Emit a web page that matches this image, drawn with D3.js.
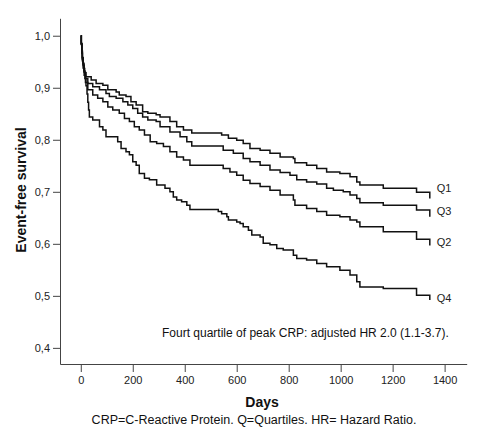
<!DOCTYPE html>
<html>
<head>
<meta charset="utf-8">
<script src="https://cdn.jsdelivr.net/npm/d3@7"></script>
<style>
  html, body { margin: 0; padding: 0; background: #fff; }
  svg { display: block; font-family: "Liberation Sans", Arial, sans-serif; }
</style>
</head>
<body>
<svg id="chart" width="481" height="440"></svg>
<script>
// ---- Data (days, event-free survival) ----
const seriesNames = ["Q1", "Q3", "Q2", "Q4"];
const q1Days = [0, 2, 4, 6, 9, 12, 15, 20, 40, 59, 85, 104, 136, 148, 174, 193, 213, 238, 258, 290, 305, 343, 369, 395, 427, 542, 568, 600, 625, 651, 690, 728, 767, 818, 824, 869, 908, 946, 997, 1036, 1062, 1074, 1164, 1292, 1343];
const q1Surv = [1.0, 0.985, 0.970, 0.958, 0.947, 0.937, 0.929, 0.921, 0.915, 0.908, 0.905, 0.896, 0.892, 0.886, 0.883, 0.873, 0.867, 0.854, 0.851, 0.848, 0.844, 0.835, 0.825, 0.819, 0.813, 0.809, 0.803, 0.799, 0.793, 0.783, 0.780, 0.774, 0.767, 0.764, 0.756, 0.751, 0.745, 0.738, 0.735, 0.729, 0.719, 0.713, 0.707, 0.699, 0.687];
const q3Days = [0, 2, 4, 6, 9, 13, 18, 27, 46, 72, 97, 110, 136, 162, 181, 200, 219, 238, 258, 290, 305, 343, 382, 408, 427, 548, 587, 625, 651, 690, 728, 767, 805, 831, 869, 908, 946, 972, 1010, 1036, 1062, 1074, 1164, 1292, 1343];
const q3Surv = [1.0, 0.984, 0.968, 0.955, 0.943, 0.930, 0.918, 0.908, 0.902, 0.896, 0.889, 0.883, 0.880, 0.873, 0.867, 0.860, 0.851, 0.844, 0.838, 0.835, 0.825, 0.815, 0.806, 0.796, 0.788, 0.780, 0.774, 0.764, 0.758, 0.751, 0.742, 0.737, 0.732, 0.723, 0.719, 0.715, 0.707, 0.703, 0.700, 0.694, 0.687, 0.679, 0.674, 0.665, 0.652];
const q2Days = [0, 2, 4, 6, 9, 13, 18, 27, 46, 65, 85, 104, 123, 148, 168, 187, 206, 225, 245, 267, 292, 318, 343, 369, 395, 420, 548, 574, 600, 625, 651, 690, 728, 767, 818, 824, 869, 908, 946, 997, 1036, 1062, 1074, 1164, 1292, 1343];
const q2Surv = [1.0, 0.983, 0.966, 0.952, 0.938, 0.924, 0.910, 0.896, 0.886, 0.880, 0.873, 0.863, 0.857, 0.851, 0.841, 0.835, 0.825, 0.819, 0.809, 0.796, 0.793, 0.787, 0.777, 0.767, 0.761, 0.751, 0.745, 0.738, 0.732, 0.722, 0.716, 0.710, 0.703, 0.694, 0.684, 0.674, 0.668, 0.662, 0.655, 0.652, 0.646, 0.642, 0.633, 0.623, 0.609, 0.597];
const q4Days = [0, 2, 4, 6, 9, 12, 16, 20, 24, 27, 30, 33, 46, 72, 85, 97, 142, 155, 174, 187, 200, 213, 225, 245, 264, 292, 324, 343, 356, 369, 388, 408, 420, 529, 542, 562, 568, 600, 613, 625, 645, 658, 690, 702, 728, 754, 779, 818, 831, 869, 908, 946, 997, 1036, 1062, 1074, 1164, 1292, 1343];
const q4Surv = [1.0, 0.985, 0.970, 0.957, 0.945, 0.932, 0.918, 0.904, 0.888, 0.872, 0.857, 0.844, 0.838, 0.825, 0.819, 0.806, 0.796, 0.783, 0.777, 0.771, 0.758, 0.751, 0.735, 0.726, 0.723, 0.713, 0.707, 0.700, 0.690, 0.684, 0.681, 0.674, 0.666, 0.662, 0.658, 0.652, 0.646, 0.642, 0.639, 0.633, 0.626, 0.617, 0.613, 0.601, 0.598, 0.591, 0.588, 0.578, 0.572, 0.569, 0.562, 0.556, 0.549, 0.540, 0.527, 0.517, 0.514, 0.501, 0.492];
const labelSurv = [0.707, 0.662, 0.604, 0.495];
const xTicks = [0, 200, 400, 600, 800, 1000, 1200, 1400];
const yTicks = [0.4, 0.5, 0.6, 0.7, 0.8, 0.9, 1.0];
const yTitle = "Event-free survival";
const xTitle = "Days";
const annotation = "Fourt quartile of peak CRP: adjusted HR 2.0 (1.1-3.7).";
const caption = "CRP=C-Reactive Protein. Q=Quartiles. HR= Hazard Ratio.";

const seriesDays = [q1Days, q3Days, q2Days, q4Days];
const seriesSurv = [q1Surv, q3Surv, q2Surv, q4Surv];

// ---- Chart ----
const svg = d3.select("#chart");
const x = d3.scaleLinear().domain([-80, 1485]).range([60, 466.7]);
const y = d3.scaleLinear().domain([0.369, 1.0335]).range([364, 18.3]);

const axisColor = "#444";
const fmtY = d => d3.format(".1f")(d).replace(".", ",");
const fmtX = d3.format("d");

const xAxis = svg.append("g")
  .attr("transform", "translate(0,364)")
  .call(d3.axisBottom(x).tickValues(xTicks).tickFormat(fmtX).tickSize(8).tickSizeOuter(0).tickPadding(4));
const yAxis = svg.append("g")
  .attr("transform", "translate(60,0)")
  .call(d3.axisLeft(y).tickValues(yTicks).tickFormat(fmtY).tickSize(7).tickSizeOuter(0).tickPadding(3));

[xAxis, yAxis].forEach(g => {
  g.select(".domain").attr("stroke", axisColor).attr("stroke-width", 1);
  g.selectAll(".tick line").attr("stroke", axisColor).attr("stroke-width", 1);
  g.selectAll(".tick text").attr("fill", "#222").style("font-size", "11px")
    .style("font-family", "'Liberation Sans', Arial, sans-serif");
});

const line = d3.line()
  .x(d => x(d[0]))
  .y(d => y(d[1]))
  .curve(d3.curveStepAfter);

seriesNames.forEach((name, i) => {
  const pts = seriesDays[i].map((t, j) => [t, seriesSurv[i][j]]);
  svg.append("path")
    .datum(pts)
    .attr("fill", "none")
    .attr("stroke", "#111")
    .attr("stroke-width", 1.5)
    .attr("d", line);
  const last = seriesDays[i][seriesDays[i].length - 1];
  svg.append("text")
    .attr("x", x(last) + 7)
    .attr("y", y(labelSurv[i]))
    .attr("dy", "0.35em")
    .attr("fill", "#222")
    .style("font-size", "11px")
    .text(name);
});

svg.append("text")
  .attr("x", 162)
  .attr("y", 337)
  .attr("fill", "#111")
  .style("font-size", "12px")
  .text(annotation);

svg.append("text")
  .attr("transform", "translate(26,190) rotate(-90)")
  .attr("text-anchor", "middle")
  .attr("fill", "#111")
  .style("font-size", "14px")
  .style("font-weight", "bold")
  .text(yTitle);

svg.append("text")
  .attr("x", 262)
  .attr("y", 407)
  .attr("text-anchor", "middle")
  .attr("fill", "#111")
  .style("font-size", "14px")
  .style("font-weight", "bold")
  .text(xTitle);

svg.append("text")
  .attr("x", 254)
  .attr("y", 424)
  .attr("text-anchor", "middle")
  .attr("fill", "#111")
  .style("font-size", "12.5px")
  .text(caption);
</script>
</body>
</html>
